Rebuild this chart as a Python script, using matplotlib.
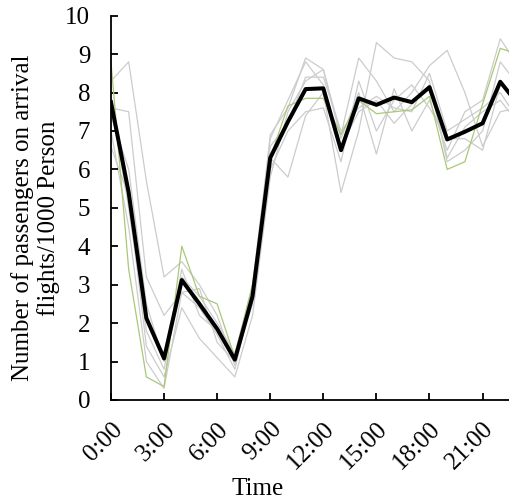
import matplotlib
matplotlib.use('Agg')
import matplotlib.pyplot as plt

hours = list(range(24))
tick_hours = [0, 3, 6, 9, 12, 15, 18, 21]
tick_labels = ['0:00', '3:00', '6:00', '9:00', '12:00', '15:00', '18:00', '21:00']

# individual days (grey)
day1 = [8.3, 8.8, 5.7, 3.2, 3.6, 3.0, 2.2, 0.9, 2.6, 6.9, 7.6, 8.9, 8.6, 6.9, 8.9, 8.3, 7.5, 8.0, 8.7, 9.1, 8.0, 6.6, 7.5, 7.6]
day2 = [7.6, 7.5, 3.2, 2.2, 2.8, 2.4, 1.7, 0.8, 2.8, 6.3, 5.8, 7.4, 8.0, 5.4, 7.0, 9.3, 8.9, 8.8, 8.3, 6.2, 6.5, 7.0, 8.8, 8.2]
day3 = [6.6, 5.3, 1.4, 0.6, 2.4, 1.6, 1.1, 0.6, 2.2, 5.8, 7.5, 8.3, 8.6, 6.8, 8.0, 6.4, 8.1, 7.0, 7.8, 6.5, 7.5, 7.8, 9.4, 8.7]
day4 = [7.8, 5.0, 1.8, 0.8, 3.2, 2.7, 2.0, 1.2, 3.0, 6.8, 7.8, 8.8, 8.2, 6.6, 7.5, 7.8, 7.2, 7.7, 8.2, 6.3, 7.1, 7.5, 7.8, 7.2]
day5 = [7.0, 4.5, 1.0, 0.3, 2.8, 2.9, 1.5, 1.0, 2.5, 6.0, 7.0, 7.5, 7.6, 6.2, 8.3, 7.0, 7.8, 8.2, 7.6, 6.8, 6.8, 6.5, 8.2, 7.9]
day6 = [7.4, 6.0, 2.5, 1.0, 3.4, 2.2, 1.8, 1.2, 2.9, 6.6, 7.2, 8.4, 8.4, 7.0, 7.6, 7.9, 7.6, 7.5, 8.5, 7.0, 7.3, 7.6, 8.0, 7.3]
grey_days = [day1, day2, day3, day4, day5, day6]

# highlighted day (green)
green_day = [8.8, 3.4, 0.6, 0.35, 4.0, 2.7, 2.5, 1.1, 3.0, 6.3, 7.65, 7.85, 7.85, 6.9, 7.8, 7.45, 7.5, 7.55, 7.9, 6.0, 6.2, 7.7, 9.15, 9.0]

# average (black)
mean_day = [7.75, 5.4, 2.13, 1.08, 3.12, 2.5, 1.85, 1.05, 2.7, 6.3, 7.24, 8.09, 8.11, 6.5, 7.85, 7.68, 7.87, 7.75, 8.14, 6.78, 6.98, 7.2, 8.28, 7.7]

plt.rcParams['font.family'] = ['Liberation Serif', 'DejaVu Serif']

fig = plt.figure(figsize=(5.10, 5.03), dpi=100)
ax = fig.add_axes([0.2176, 0.2048, 0.7824, 0.764])

for d in grey_days:
    ax.plot(hours, d, color='#cccccc', lw=0.9, zorder=1)
ax.plot(hours, green_day, color='#a8c878', lw=0.9, zorder=2)
ax.plot(hours, mean_day, color='black', lw=2.9, zorder=3)

ax.set_xlim(0, 22.55)
ax.set_ylim(0, 10)
ax.set_yticks(range(0, 11))
ax.set_xticks(tick_hours)
ax.set_xticklabels(tick_labels, rotation=45, ha='right', rotation_mode='anchor')
ax.tick_params(direction='in', length=5, width=1.3, labelsize=18, color='black')
ax.tick_params(axis='x', pad=13)
ax.tick_params(axis='y', pad=15)

for s in ['top', 'right']:
    ax.spines[s].set_visible(False)
for s in ['left', 'bottom']:
    ax.spines[s].set_linewidth(1.3)

ax.set_xlabel('Time', fontsize=18)
ax.xaxis.set_label_coords(0.367, -0.203)
ax.set_ylabel('Number of passengers on arrival\nflights/1000 Person', fontsize=18, linespacing=1.15)
ax.yaxis.set_label_coords(-0.128, 0.474)

fig.savefig('out.png', dpi=100)
